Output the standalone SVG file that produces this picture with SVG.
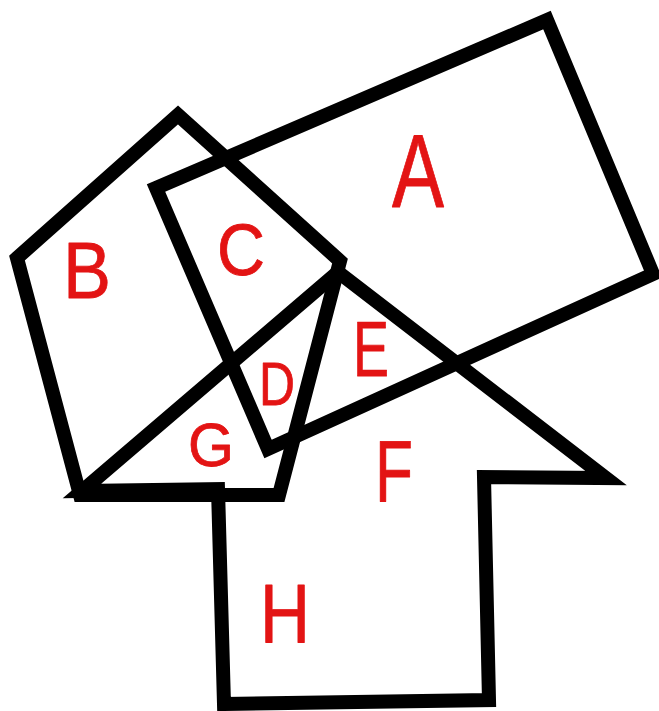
<svg xmlns="http://www.w3.org/2000/svg" width="659" height="711" viewBox="0 0 659 711">
  <style>
    .shape { fill: none; stroke: #000; stroke-width: 14; stroke-linejoin: miter; stroke-miterlimit: 6; }
    .lbl { font-family: "Liberation Sans", "DejaVu Sans", sans-serif; fill: #e31414; stroke: #e31414; stroke-width: 0.8; stroke-linejoin: round; text-anchor: middle; }
  </style>
  <rect width="659" height="711" fill="#fff"/>
  <g id="shapes">
    <g id="rectangle-A">
      <polygon class="shape" points="156,188 547,20 653,274 268,449"/>
    </g>
    <g id="pentagon-B">
      <polygon class="shape" points="17,258 178,115 340,261 279,495 80,495"/>
    </g>
    <g id="arrow-H">
      <polygon class="shape" points="338,272 606,478 484,477 489,700 224,704 218,489 82,491"/>
    </g>
  </g>
  <g id="labels">
    <text class="lbl" x="418" y="207" font-size="104" textLength="52" lengthAdjust="spacingAndGlyphs">A</text>
    <text class="lbl" x="87" y="298" font-size="80" textLength="48" lengthAdjust="spacingAndGlyphs">B</text>
    <text class="lbl" x="241" y="275" font-size="72" textLength="48" lengthAdjust="spacingAndGlyphs">C</text>
    <text class="lbl" x="277" y="405" font-size="62" textLength="36" lengthAdjust="spacingAndGlyphs">D</text>
    <text class="lbl" x="371" y="376" font-size="77" textLength="36" lengthAdjust="spacingAndGlyphs">E</text>
    <text class="lbl" x="394" y="501" font-size="88" textLength="38" lengthAdjust="spacingAndGlyphs">F</text>
    <text class="lbl" x="211" y="466" font-size="62" textLength="46" lengthAdjust="spacingAndGlyphs">G</text>
    <text class="lbl" x="285" y="643" font-size="84" textLength="50" lengthAdjust="spacingAndGlyphs">H</text>
  </g>
</svg>
